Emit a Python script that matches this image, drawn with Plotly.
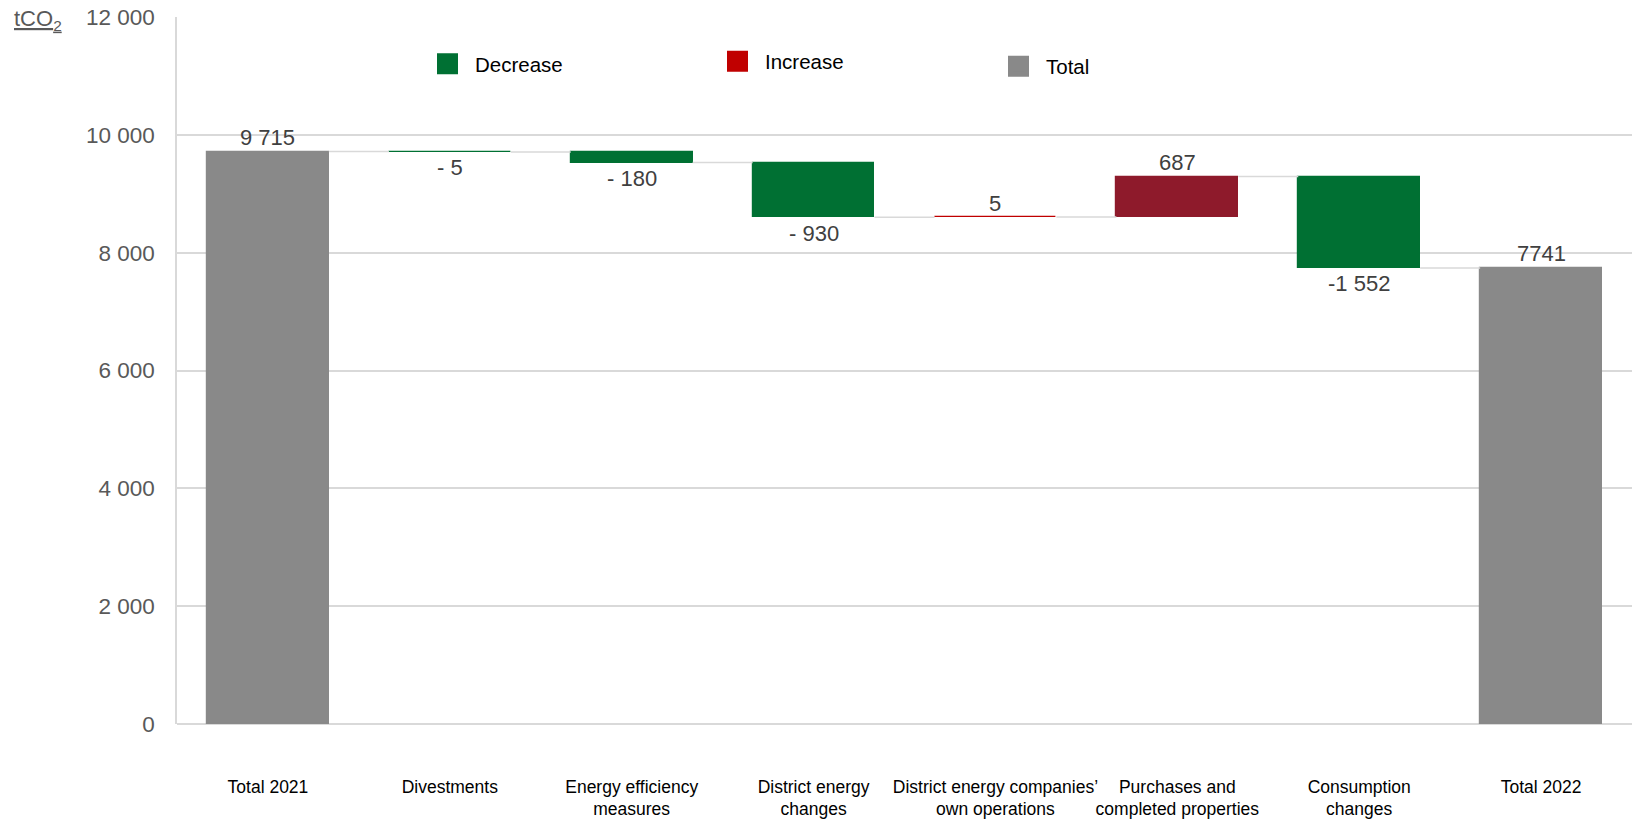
import plotly.graph_objects as go

# ---- data ----
categories = [
    "Total 2021",
    "Divestments",
    "Energy efficiency<br>measures",
    "District energy<br>changes",
    "District energy companies’<br>own operations",
    "Purchases and<br>completed properties",
    "Consumption<br>changes",
    "Total 2022",
]
values = [9715, -5, -180, -930, 5, 687, -1552, 7741]
measures = ["total", "relative", "relative", "relative", "relative", "relative", "relative", "total"]
value_labels = ["9 715", "- 5", "- 180", "- 930", "5", "687", "-1 552", "7741"]
y_tick_values = [0, 2000, 4000, 6000, 8000, 10000, 12000]
legend_names = ["Decrease", "Increase", "Total"]

# ---- styles ----
GREEN = "#007033"
RED_DARK = "#8E1A2B"
RED = "#C00000"
GREY = "#898989"
bar_colors = [GREY, GREEN, GREEN, GREEN, RED, RED_DARK, GREEN, GREY]
legend_colors = [GREEN, RED, GREY]
BAR_W = 0.67
FONT = "Liberation Sans, Arial"

# ---- derived geometry through data ----
xs = list(range(len(categories)))
bases, heights, ends = [], [], []
running = 0
for v, m in zip(values, measures):
    if m == "total":
        bases.append(0)
        heights.append(v)
        running = v
    else:
        bases.append(running)
        heights.append(v)
        running = running + v
    ends.append(running)

cx, cy = [], []
for i in range(len(xs) - 1):
    cx += [xs[i] + BAR_W / 2, xs[i + 1] - BAR_W / 2, None]
    cy += [ends[i], ends[i], None]

fig = go.Figure()
fig.add_trace(go.Scatter(x=cx, y=cy, mode="lines", line=dict(color="#D9D9D9", width=1.5),
                         hoverinfo="skip", showlegend=False))
fig.add_trace(go.Bar(
    x=xs, y=heights, base=bases, width=BAR_W,
    marker=dict(color=bar_colors, line=dict(color=bar_colors, width=1.2)),
    showlegend=False, hoverinfo="x+y",
))

# value labels: above the bar end for increases/totals, below for decreases
annotations = []
for x, b, h, m, lab in zip(xs, bases, heights, measures, value_labels):
    top = b + h
    if m == "total" or h > 0:
        annotations.append(dict(x=x, y=max(b, top), xref="x", yref="y", text=lab, showarrow=False,
                                yanchor="middle", yshift=14,
                                font=dict(size=22, color="#404040", family=FONT)))
    else:
        annotations.append(dict(x=x, y=min(b, top), xref="x", yref="y", text=lab, showarrow=False,
                                yanchor="middle", yshift=-16,
                                font=dict(size=22, color="#404040", family=FONT)))

legend_centers_px = [440, 730, 1011]
legend_y_px = [64, 61.5, 66.5]
PLOT_L, PLOT_W, PLOT_T, PLOT_H = 177, 1455, 17, 707
for k, (name, col) in enumerate(zip(legend_names, legend_colors)):
    lname = "legend" if k == 0 else f"legend{k+1}"
    fig.add_trace(go.Scatter(x=[None], y=[None], mode="markers", name=name,
                             marker=dict(symbol="square", size=19, color=col, line=dict(color=col, width=5)),
                             legend=lname, showlegend=True))
    fig.update_layout(**{lname: dict(
        x=(legend_centers_px[k] - 20 - PLOT_L) / PLOT_W,
        y=(PLOT_T + PLOT_H - legend_y_px[k]) / PLOT_H,
        xanchor="left", yanchor="middle",
        bgcolor="rgba(0,0,0,0)", borderwidth=0,
        font=dict(size=20.5, color="#000000", family=FONT),
        itemsizing="trace", itemwidth=45,
    )})

annotations.append(dict(text="<u>tCO<sub>2</sub></u>", xref="paper", yref="paper", x=0, y=1,
                        xanchor="left", yanchor="middle", xshift=12 - PLOT_L, yshift=-3,
                        showarrow=False, font=dict(size=22, color="#595959", family=FONT)))

fig.update_layout(
    width=1632, height=823,
    margin=dict(l=177, r=0, t=17, b=99, autoexpand=False),
    plot_bgcolor="white", paper_bgcolor="white",
    separators=". ",
    font=dict(family=FONT, color="#595959"),
    bargap=0,
    xaxis=dict(range=[-0.5, 7.5], tickmode="array", tickvals=xs, ticktext=categories,
               showgrid=False, zeroline=False, showline=False, ticks="", tickangle=0,
               tickfont=dict(size=17.5, color="#000000", family=FONT),
               ticklabelstandoff=50, automargin=False),
    yaxis=dict(range=[0, 12000], tickmode="array", tickvals=y_tick_values, tickformat=",d",
               showgrid=True, gridcolor="#D9D9D9", gridwidth=1.5,
               zeroline=True, zerolinecolor="#D9D9D9", zerolinewidth=1.5,
               showline=True, linecolor="#D9D9D9", linewidth=1.5,
               ticks="", ticklabelstandoff=16,
               tickfont=dict(size=22.5, color="#595959", family=FONT),
               automargin=False),
    annotations=annotations,
)

fig.write_html("out.html")
